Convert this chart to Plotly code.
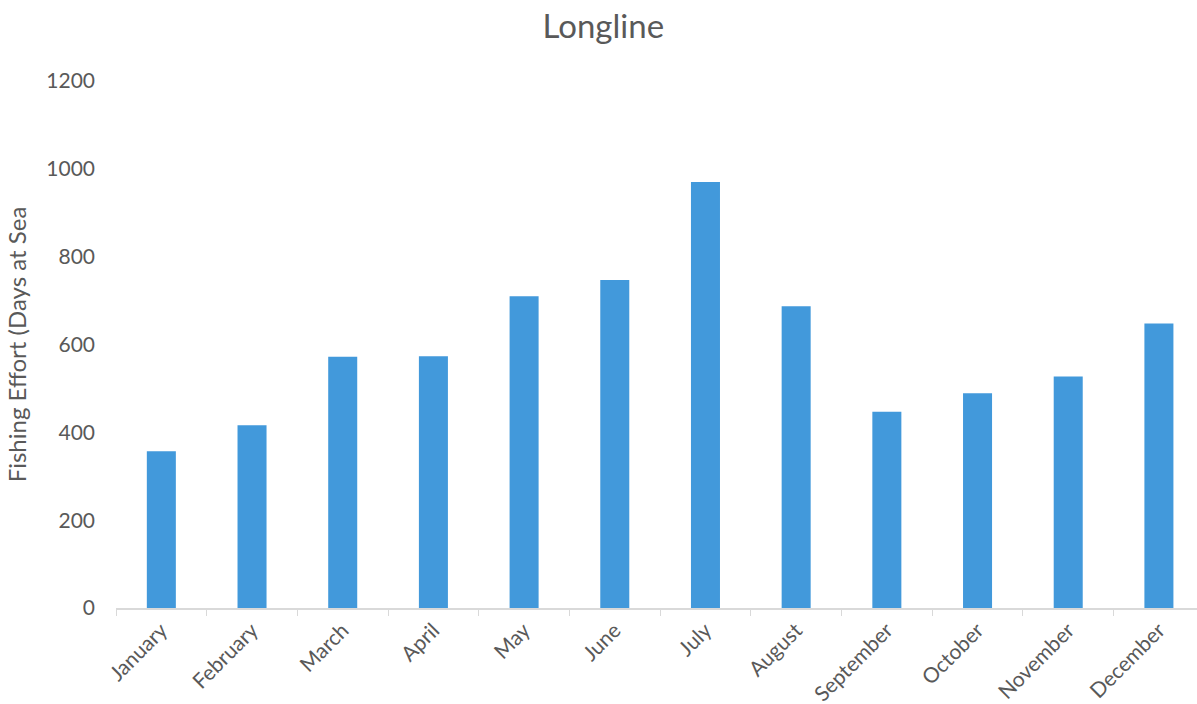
import plotly.graph_objects as go

months = ["January", "February", "March", "April", "May", "June",
          "July", "August", "September", "October", "November", "December"]
effort = [357, 416, 572, 573, 710, 747, 970, 687, 447, 489, 527, 648]
y_ticks = [0, 200, 400, 600, 800, 1000, 1200]

FONT = "Lato"
TXT = "#595959"

fig = go.Figure(go.Bar(x=months, y=effort, marker=dict(color="#4299DB", line=dict(width=0))))

fig.update_layout(
    width=1197, height=704,
    margin=dict(l=116, r=0, t=81, b=96),
    paper_bgcolor="white", plot_bgcolor="white",
    bargap=0.68,
    showlegend=False,
    font=dict(family=FONT, color=TXT),
    title=dict(text="Longline", x=0.504, xanchor="center", y=0.962, yanchor="middle",
               yref="container", font=dict(family=FONT, size=33, color=TXT)),
)
fig.update_xaxes(
    range=[-0.5, 11.42], showgrid=False, showline=True, linecolor="#D9D9D9", linewidth=1.5,
    ticks="outside", tickson="boundaries", ticklen=6, tickcolor="#D9D9D9", tickwidth=1,
    tickangle=-45, tickfont=dict(family=FONT, size=21, color=TXT), automargin=False,
)
fig.update_yaxes(
    range=[0, 1200], tickvals=y_ticks, showgrid=False, showline=False, zeroline=False,
    tickfont=dict(family=FONT, size=21, color=TXT), ticklabelstandoff=20,
    title=dict(text="Fishing Effort (Days at Sea", standoff=12,
               font=dict(family=FONT, size=24, color=TXT)),
    automargin=False,
)

fig.write_html("out.html")
